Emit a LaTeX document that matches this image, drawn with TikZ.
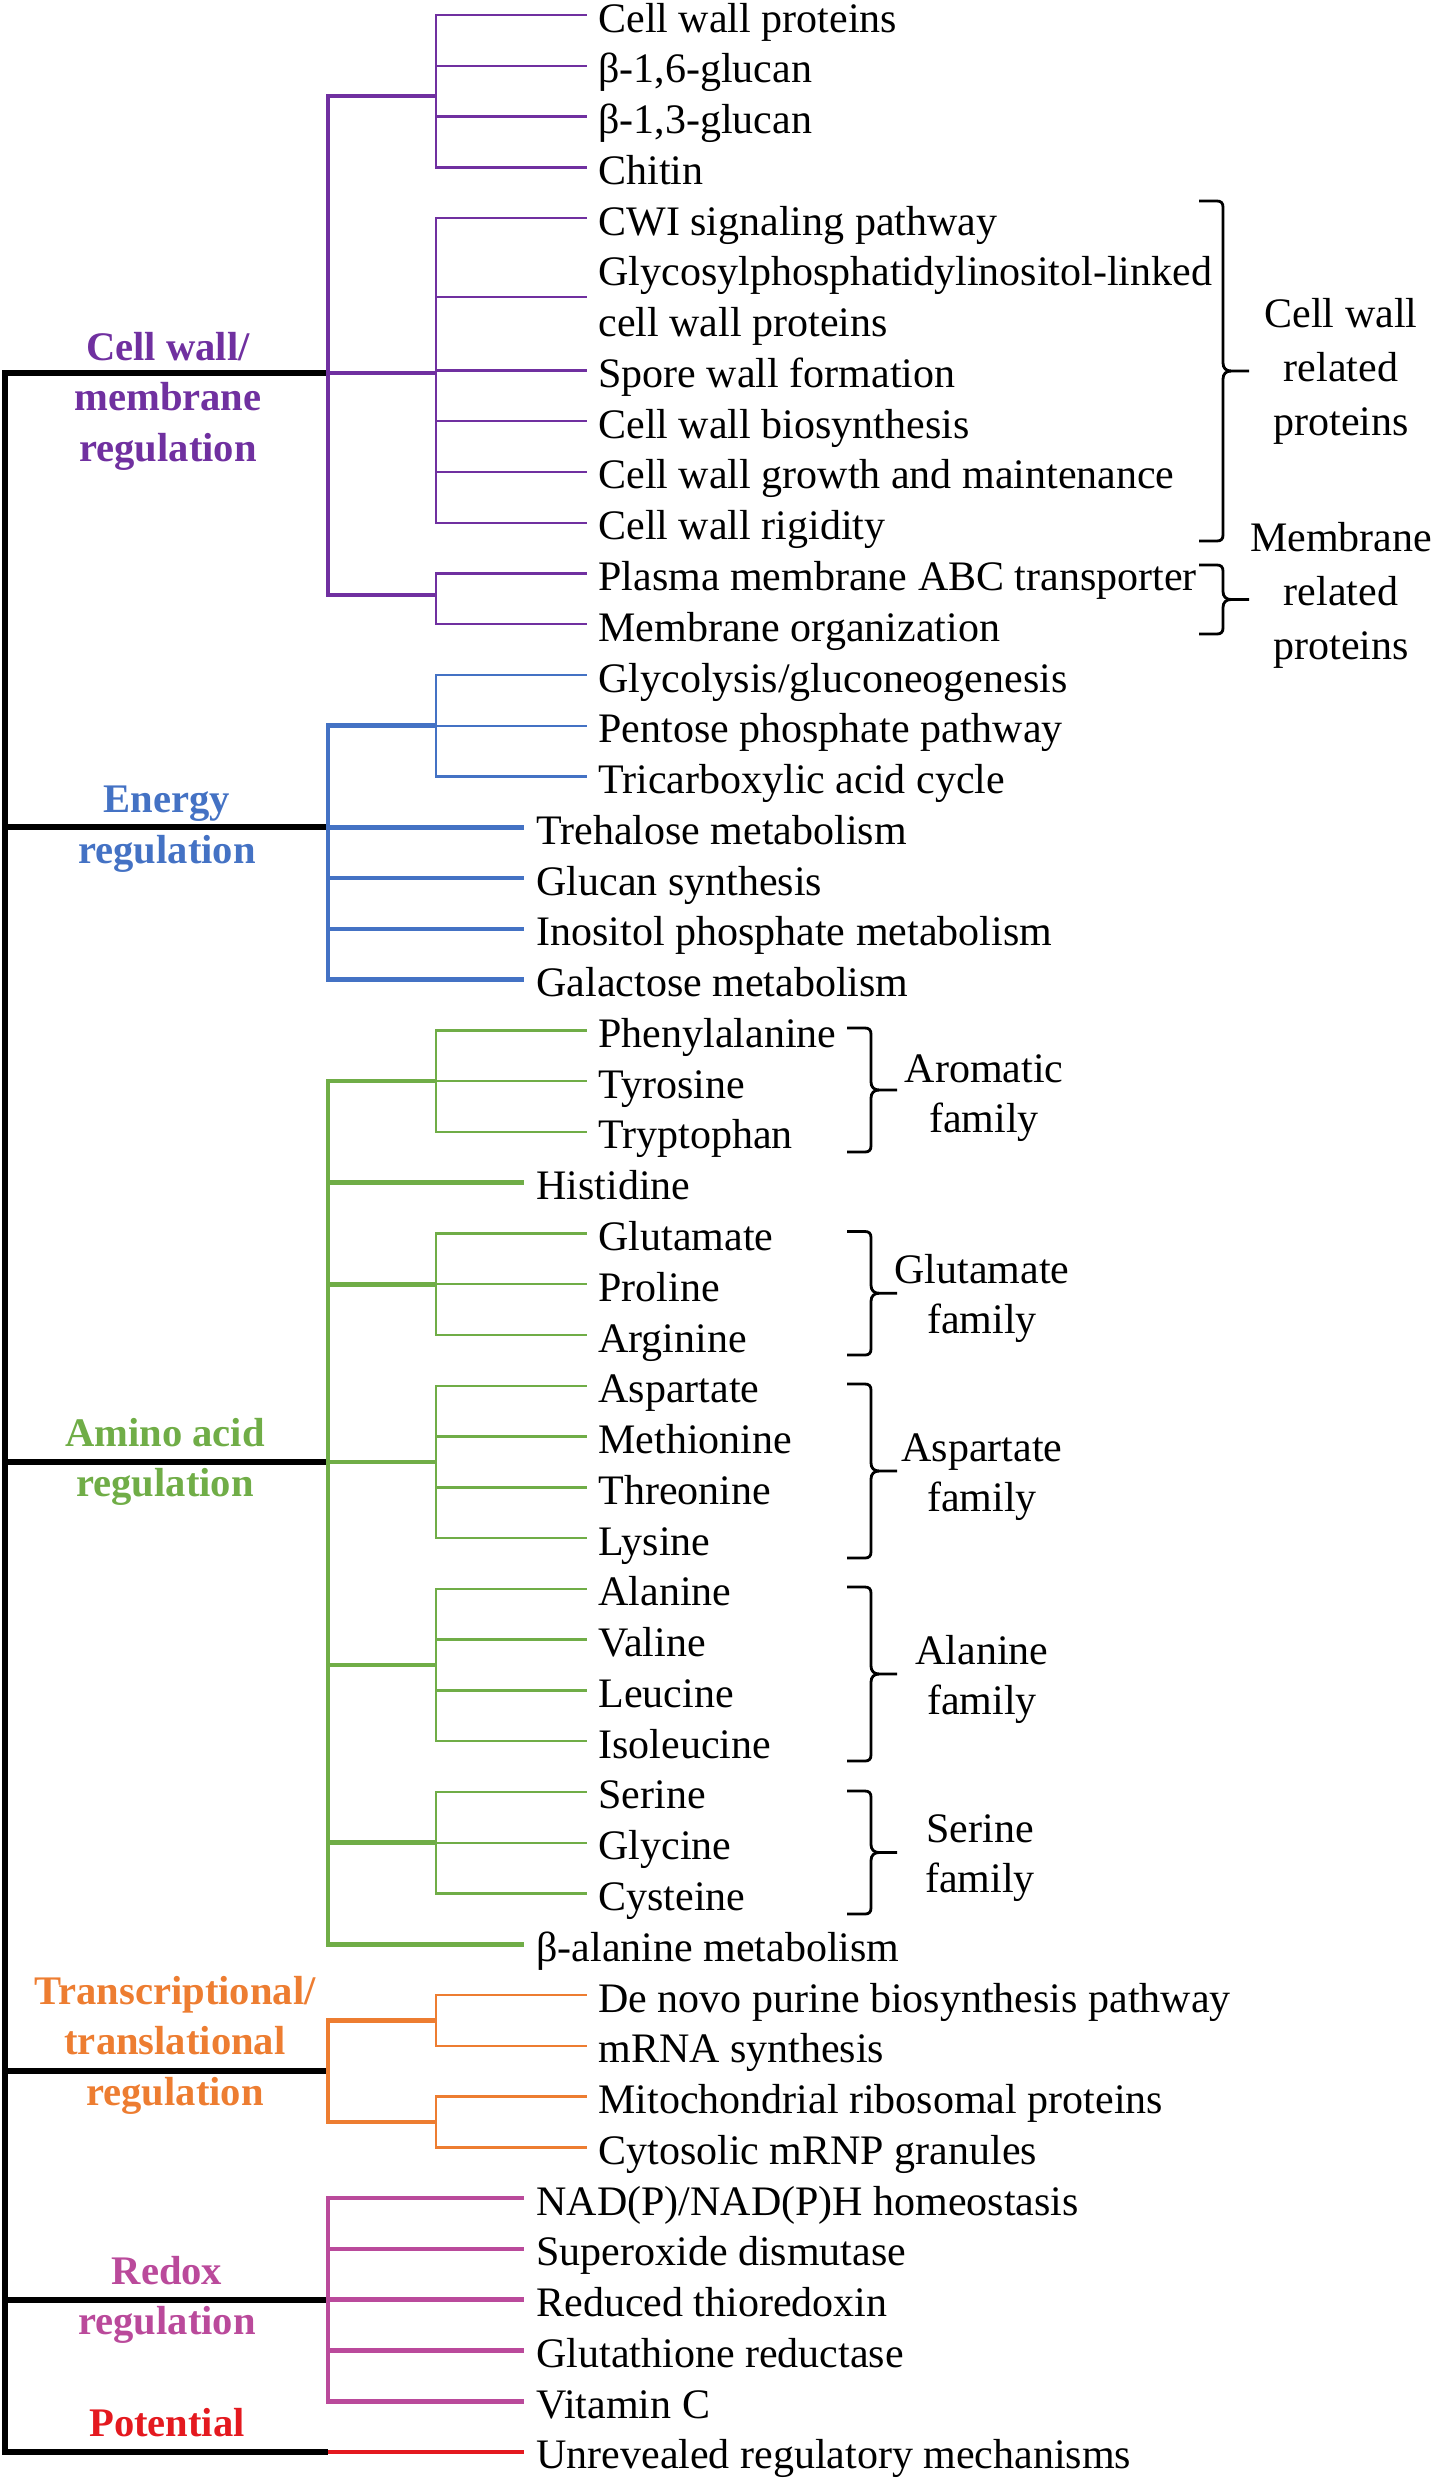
\documentclass[tikz,border=0pt]{standalone}
\usepackage{fontspec}
\setmainfont{Liberation Serif}
\definecolor{cpurple}{HTML}{7030A0}
\definecolor{cblue}{HTML}{4472C4}
\definecolor{cgreen}{HTML}{70AD47}
\definecolor{corange}{HTML}{ED7D31}
\definecolor{cmagenta}{HTML}{BA4A9B}
\definecolor{cred}{HTML}{E4191F}
\newcommand\rowy[1]{(15+50.77*(#1))}
% thin leaf: colour, name, row, junction, text
\newcommand\tleaf[5]{%
  \node[leaf] (#2) at (598,{\rowy{#3}+17}) {#5};
  \draw[thn,#1] (#4) |- ([shift={(-11,-17)}]#2.base west);}
% thick leaf: colour, name, row, junction, text
\newcommand\kleaf[5]{%
  \node[leaf] (#2) at (536,{\rowy{#3}+17}) {#5};
  \draw[thk,#1] (#4) |- ([shift={(-12,-17)}]#2.base west);}
% right brace: x, top, bottom
\newcommand\mybrc[3]{%
  \pgfmathsetmacro\brcmid{(#2+#3)/2}%
  \draw[brc] (#1-24,#2) -- (#1-6,#2) .. controls (#1-2,#2) and (#1,#2+2) .. (#1,#2+6)
     -- (#1,\brcmid-8) .. controls (#1,\brcmid-3) and (#1+3,\brcmid) .. (#1+8,\brcmid) -- (#1+26,\brcmid);
  \draw[brc] (#1+8,\brcmid) .. controls (#1+3,\brcmid) and (#1,\brcmid+3) .. (#1,\brcmid+8)
     -- (#1,#3-6) .. controls (#1,#3-2) and (#1-2,#3) .. (#1-6,#3) -- (#1-24,#3);}
\begin{document}
\begin{tikzpicture}[x=0.5pt,y=-0.5pt,
  blk/.style={line width=3pt,black},
  thk/.style={line width=2.3pt},
  thn/.style={line width=1.2pt},
  brc/.style={line width=1.4pt,black},
  leaf/.style={anchor=base west,inner sep=0pt,font=\fontsize{21}{25}\selectfont},
  cat/.style={anchor=base,align=center,inner sep=0pt,font=\fontsize{20.3}{25.25}\selectfont\bfseries},
  fam/.style={anchor=base,align=center,inner sep=0pt,font=\fontsize{21}{25}\selectfont},
  famw/.style={anchor=base,align=center,inner sep=0pt,font=\fontsize{21}{27}\selectfont}]
\useasboundingbox (0,0) rectangle (1432,2480);
% ---------------- junction coordinates
\coordinate (rcw) at (5,373);
\coordinate (jcw) at (328,373);
\coordinate (jcwA) at (436,96);
\coordinate (jcwB) at (436,373);
\coordinate (jcwC) at (436,595);
\coordinate (ren) at (5,{\rowy{16}});
\coordinate (jen) at (328,{\rowy{16}});
\coordinate (jenA) at (436,{\rowy{14}});
\coordinate (ram) at (5,{\rowy{28.5}});
\coordinate (jam) at (328,{\rowy{28.5}});
\coordinate (jamA) at (436,{\rowy{21}});
\coordinate (jamB) at (436,{\rowy{25}});
\coordinate (jamC) at (436,{\rowy{28.5}});
\coordinate (jamD) at (436,{\rowy{32.5}});
\coordinate (jamE) at (436,{\rowy{36}});
\coordinate (rtr) at (5,{\rowy{40.5}});
\coordinate (jtr) at (328,{\rowy{40.5}});
\coordinate (jtrA) at (436,{\rowy{39.5}});
\coordinate (jtrB) at (436,{\rowy{41.5}});
\coordinate (rrd) at (5,{\rowy{45}});
\coordinate (jrd) at (328,{\rowy{45}});
\coordinate (rpt) at (5,{\rowy{48}});
\coordinate (jpt) at (328,{\rowy{48}});
% ---------------- black backbone
\draw[blk] (jcw) -- (rcw) -- (rpt) -- (jpt);
\draw[blk] (ren) -- (jen);
\draw[blk] (ram) -- (jam);
\draw[blk] (rtr) -- (jtr);
\draw[blk] (rrd) -- (jrd);
% ---------------- category labels (anchor = baseline of the last line)
\node[cat,text=cpurple] (Lcw) at (168,461) {Cell wall/\\membrane\\regulation};
\node[cat,text=cblue] (Len) at (167,{\rowy{16}+36}) {Energy\\regulation};
\node[cat,text=cgreen] (Lam) at (165,{\rowy{28.5}+35}) {Amino acid\\regulation};
\node[cat,text=corange] (Ltr) at (175,{\rowy{40.5}+34}) {Transcriptional/\\translational\\regulation};
\node[cat,text=cmagenta] (Lrd) at (167,{\rowy{45}+35}) {Redox\\regulation};
\node[cat,text=cred] (Lpt) at (167,{\rowy{48}-15}) {Potential};
% ---------------- cell wall / membrane
\draw[thk,cpurple] (jcw) |- (jcwA);
\draw[thk,cpurple] (jcw) -- (jcwB);
\draw[thk,cpurple] (jcw) |- (jcwC);
\tleaf{cpurple}{cw0}{0}{jcwA}{Cell wall proteins}
\tleaf{cpurple}{cw1}{1}{jcwA}{β-1,6-glucan}
\tleaf{cpurple}{cw2}{2}{jcwA}{β-1,3-glucan}
\tleaf{cpurple}{cw3}{3}{jcwA}{Chitin}
\tleaf{cpurple}{cw4}{4}{jcwB}{CWI signaling pathway}
\node[leaf] (gpi1) at (598,{\rowy{5}+17}) {Glycosylphosphatidylinositol-linked};
\node[leaf] (gpi2) at (598,{\rowy{6}+17}) {cell wall proteins};
\coordinate (gpie) at (587,{\rowy{5.5}+3});
\draw[thn,cpurple] (jcwB) |- (gpie);
\tleaf{cpurple}{cw7}{7}{jcwB}{Spore wall formation}
\tleaf{cpurple}{cw8}{8}{jcwB}{Cell wall biosynthesis}
\tleaf{cpurple}{cw9}{9}{jcwB}{Cell wall growth and maintenance}
\tleaf{cpurple}{cw10}{10}{jcwB}{Cell wall rigidity}
\tleaf{cpurple}{cw11}{11}{jcwC}{Plasma membrane ABC transporter}
\tleaf{cpurple}{cw12}{12}{jcwC}{Membrane organization}
% ---------------- energy
\draw[thk,cblue] (jen) |- (jenA);
\tleaf{cblue}{en13}{13}{jenA}{Glycolysis/gluconeogenesis}
\tleaf{cblue}{en14}{14}{jenA}{Pentose phosphate pathway}
\tleaf{cblue}{en15}{15}{jenA}{Tricarboxylic acid cycle}
\kleaf{cblue}{en16}{16}{jen}{Trehalose metabolism}
\kleaf{cblue}{en17}{17}{jen}{Glucan synthesis}
\kleaf{cblue}{en18}{18}{jen}{Inositol phosphate metabolism}
\kleaf{cblue}{en19}{19}{jen}{Galactose metabolism}
% ---------------- amino acid
\draw[thk,cgreen] (jam) |- (jamA);
\draw[thk,cgreen] (jam) |- (jamB);
\draw[thk,cgreen] (jam) -- (jamC);
\draw[thk,cgreen] (jam) |- (jamD);
\draw[thk,cgreen] (jam) |- (jamE);
\tleaf{cgreen}{aa20}{20}{jamA}{Phenylalanine}
\tleaf{cgreen}{aa21}{21}{jamA}{Tyrosine}
\tleaf{cgreen}{aa22}{22}{jamA}{Tryptophan}
\kleaf{cgreen}{aa23}{23}{jam}{Histidine}
\tleaf{cgreen}{aa24}{24}{jamB}{Glutamate}
\tleaf{cgreen}{aa25}{25}{jamB}{Proline}
\tleaf{cgreen}{aa26}{26}{jamB}{Arginine}
\tleaf{cgreen}{aa27}{27}{jamC}{Aspartate}
\tleaf{cgreen}{aa28}{28}{jamC}{Methionine}
\tleaf{cgreen}{aa29}{29}{jamC}{Threonine}
\tleaf{cgreen}{aa30}{30}{jamC}{Lysine}
\tleaf{cgreen}{aa31}{31}{jamD}{Alanine}
\tleaf{cgreen}{aa32}{32}{jamD}{Valine}
\tleaf{cgreen}{aa33}{33}{jamD}{Leucine}
\tleaf{cgreen}{aa34}{34}{jamD}{Isoleucine}
\tleaf{cgreen}{aa35}{35}{jamE}{Serine}
\tleaf{cgreen}{aa36}{36}{jamE}{Glycine}
\tleaf{cgreen}{aa37}{37}{jamE}{Cysteine}
\kleaf{cgreen}{aa38}{38}{jam}{β-alanine metabolism}
% ---------------- transcriptional / translational
\draw[thk,corange] (jtr) |- (jtrA);
\draw[thk,corange] (jtr) |- (jtrB);
\tleaf{corange}{tr39}{39}{jtrA}{De novo purine biosynthesis pathway}
\tleaf{corange}{tr40}{40}{jtrA}{mRNA synthesis}
\tleaf{corange}{tr41}{41}{jtrB}{Mitochondrial ribosomal proteins}
\tleaf{corange}{tr42}{42}{jtrB}{Cytosolic mRNP granules}
% ---------------- redox
\kleaf{cmagenta}{rd43}{43}{jrd}{NAD(P)/NAD(P)H homeostasis}
\kleaf{cmagenta}{rd44}{44}{jrd}{Superoxide dismutase}
\kleaf{cmagenta}{rd45}{45}{jrd}{Reduced thioredoxin}
\kleaf{cmagenta}{rd46}{46}{jrd}{Glutathione reductase}
\kleaf{cmagenta}{rd47}{47}{jrd}{Vitamin C}
% ---------------- potential
\node[leaf] (pt48) at (536,{\rowy{48}+17}) {Unrevealed regulatory mechanisms};
\draw[line width=2.2pt,cred] (jpt) -- ([shift={(-12,-17)}]pt48.base west);
% ---------------- braces and group labels (anchor = baseline of the last line)
\mybrc{1223}{201}{541}
\node[famw] (Fcw) at (1341,435) {Cell wall\\related\\proteins};
\mybrc{1223}{565}{634}
\node[famw] (Fmb) at (1341,659) {Membrane\\related\\proteins};
\mybrc{871}{1028}{1152}
\node[fam] (Far) at (984,1132) {Aromatic\\family};
\mybrc{871}{1231.5}{1355}
\node[fam] (Fgl) at (982,1333) {Glutamate\\family};
\mybrc{871}{1384}{1558}
\node[fam] (Fas) at (982,1511) {Aspartate\\family};
\mybrc{871}{1587}{1761}
\node[fam] (Fal) at (982,1714) {Alanine\\family};
\mybrc{871}{1791}{1914}
\node[fam] (Fse) at (980,1892) {Serine\\family};
\end{tikzpicture}
\end{document}
